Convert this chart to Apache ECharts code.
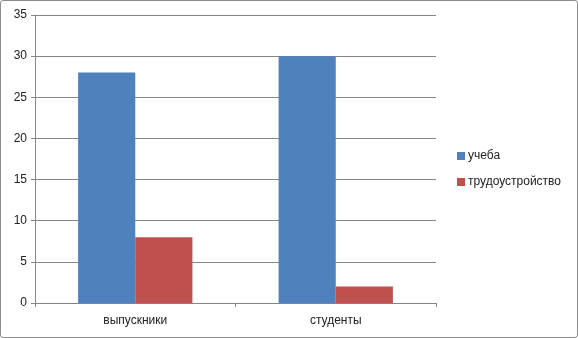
<!DOCTYPE html>
<html>
<head>
<meta charset="utf-8">
<script src="https://cdn.jsdelivr.net/npm/echarts@6/dist/echarts.min.js"></script>
<style>
  html, body { margin: 0; padding: 0; background: #fff; }
  #frame {
    position: absolute; left: 0; top: 0;
    width: 576px; height: 336px;
    border: 1px solid #8c8c8c; border-radius: 3px;
  }
  #chart { width: 576px; height: 336px; }
</style>
</head>
<body>
<div id="frame"><div id="chart"></div></div>
<script>
var categories = ['выпускники', 'студенты'];
var seriesNames = ['учеба', 'трудоустройство'];
var study = [28, 30];
var employment = [8, 2];

var chart = echarts.init(document.getElementById('chart'));

chart.setOption({
    animation: false,
    textStyle: { fontFamily: 'Liberation Sans, Arial, sans-serif' },
    grid: { left: 34, top: 14, width: 401, height: 288 },
    legend: {
        orient: 'vertical',
        left: 456,
        top: 149,
        padding: 0,
        itemWidth: 8,
        itemHeight: 8,
        itemGap: 14,
        icon: 'rect',
        data: seriesNames,
        textStyle: { fontSize: 12, color: '#222', padding: [0, 0, 0, -2] }
    },
    xAxis: {
        type: 'category',
        data: categories,
        axisLine: { lineStyle: { color: '#868686', width: 1 } },
        axisTick: { show: true, alignWithLabel: false, length: 4, lineStyle: { color: '#868686' } },
        axisLabel: { fontSize: 12, color: '#222', margin: 12 }
    },
    yAxis: {
        type: 'value',
        min: 0,
        max: 35,
        interval: 5,
        axisLine: { show: true, lineStyle: { color: '#868686', width: 1 } },
        axisTick: { show: true, length: 4, lineStyle: { color: '#868686' } },
        axisLabel: { fontSize: 12, color: '#222', margin: 8 },
        splitLine: { lineStyle: { color: '#868686', width: 1 } }
    },
    series: [
        {
            name: seriesNames[0],
            type: 'bar',
            data: study,
            barGap: '0%',
            barCategoryGap: '43%',
            itemStyle: { color: '#4f81bd' }
        },
        {
            name: seriesNames[1],
            type: 'bar',
            data: employment,
            barGap: '0%',
            barCategoryGap: '43%',
            itemStyle: { color: '#c0504d' }
        }
    ]
});
</script>
</body>
</html>
